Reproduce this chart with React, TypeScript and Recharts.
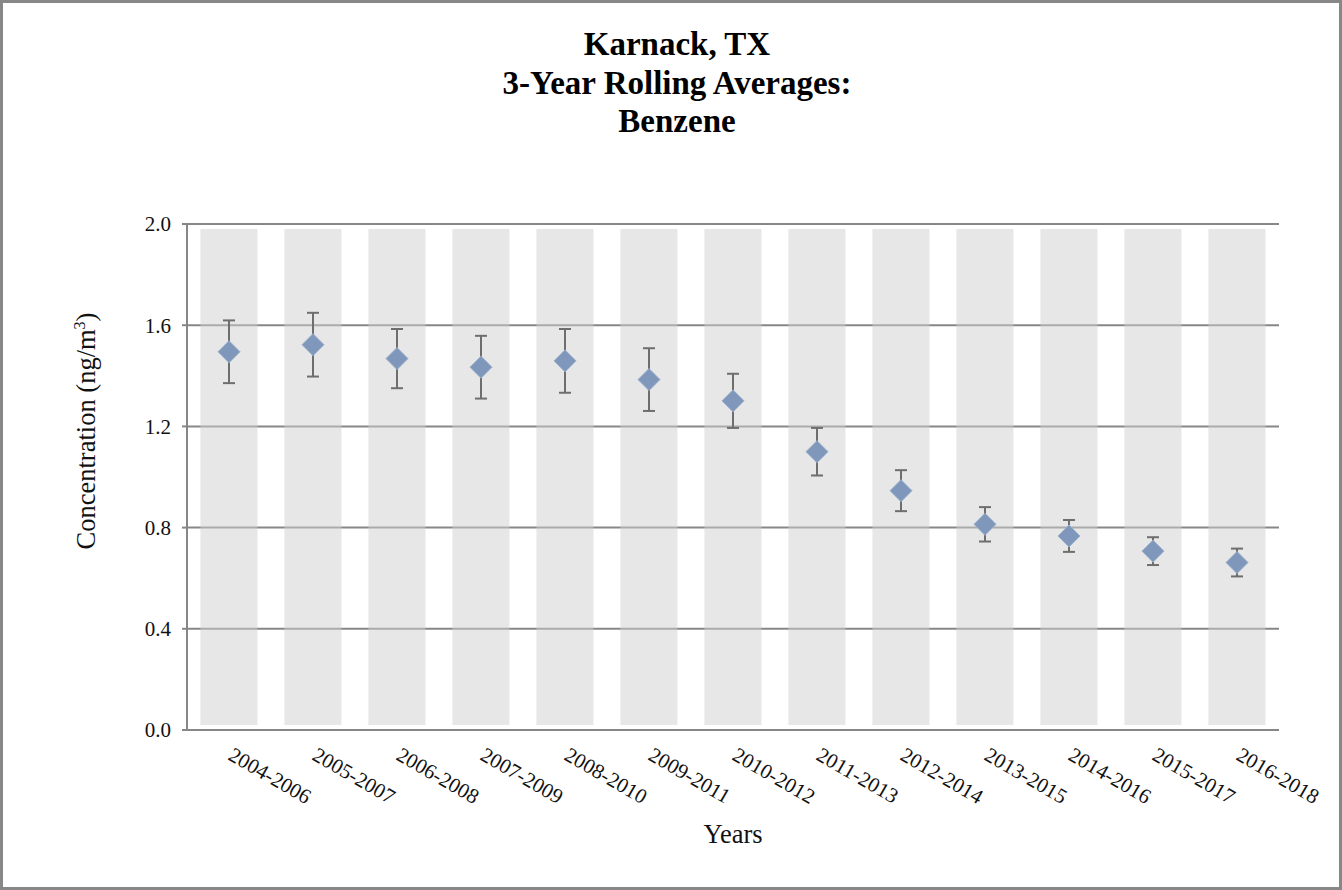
import { Bar, ComposedChart, CartesianGrid, ErrorBar, Scatter, XAxis, YAxis } from "recharts";

// 3-year windows on the x axis
const periods = [
    '2004-2006', '2005-2007', '2006-2008', '2007-2009', '2008-2010', '2009-2011', '2010-2012',
    '2011-2013', '2012-2014', '2013-2015', '2014-2016', '2015-2017', '2016-2018',
];

// rolling average concentration (ng/m3)
const averages = [1.495, 1.523, 1.468, 1.434, 1.459, 1.385, 1.301, 1.100, 0.946, 0.813, 0.767, 0.707, 0.662];

// 95% confidence interval half-widths
const errors = [0.124, 0.126, 0.117, 0.124, 0.126, 0.124, 0.107, 0.094, 0.081, 0.068, 0.063, 0.055, 0.055];

const yTicks = [0, 0.4, 0.8, 1.2, 1.6, 2.0];

// shaded column behind each period
const bandRange = [0.02, 1.98];

const data = periods.map((period, i) => ({
    period,
    avg: averages[i],
    err: errors[i],
    band: bandRange,
}));

const edgeTicks = [...periods.map((_, i) => i), periods.length];

const FONT = '"Liberation Serif", "Times New Roman", serif';
const AXIS_GRAY = '#878787';

const PeriodTick = ({ x, y, payload }: any) => {
    const ox = x - 2;
    const oy = y + 29;
    return (
        <text x={ox} y={oy} transform={`rotate(30, ${ox}, ${oy})`} fontSize={21} fontFamily={FONT} fill="#111">
            {payload.value}
        </text>
    );
};

const Diamond = ({ cx, cy }: any) => {
    const r = 11;
    return (
        <polygon
            points={`${cx},${cy - r} ${cx + r},${cy} ${cx},${cy + r} ${cx - r},${cy}`}
            fill="#7f97bb"
            stroke="#9cb0cc"
            strokeWidth={1}
        />
    );
};

const YTitle = () => (
    <text x={92} y={428} transform="rotate(-90, 92, 428)" textAnchor="middle" fontSize={26.5} fontFamily={FONT} fill="#111">
        Concentration (ng/m<tspan dy={-10} fontSize={16}>3</tspan><tspan dy={10}>)</tspan>
    </text>
);

export default function App() {
    return (
        <div
            style={{
                position: 'absolute', left: 0, top: 0, width: 1342, height: 890,
                boxSizing: 'border-box', border: `3px solid ${AXIS_GRAY}`, background: '#fff',
            }}
        >
            <svg width={1336} height={200} style={{ position: 'absolute', left: 0, top: 0 }}>
                <g fontFamily={FONT} fontWeight="bold" fontSize={33} textAnchor="middle" fill="#000">
                    <text x={674} y={52}>Karnack, TX</text>
                    <text x={674} y={91}>3-Year Rolling Averages:</text>
                    <text x={674} y={129}>Benzene</text>
                </g>
            </svg>
            <ComposedChart
                width={1336}
                height={884}
                data={data}
                margin={{ top: 221, right: 60, bottom: 0, left: 0 }}
                barCategoryGap="16%"
            >
                <CartesianGrid vertical={false} stroke={AXIS_GRAY} strokeWidth={2} strokeOpacity={1} />
                <XAxis
                    xAxisId="edges"
                    type="number"
                    domain={[0, periods.length]}
                    ticks={edgeTicks}
                    allowDataOverflow
                    height={0}
                    tickSize={6}
                    tick={() => <g />}
                    axisLine={{ stroke: AXIS_GRAY, strokeWidth: 2 }}
                    tickLine={{ stroke: AXIS_GRAY, strokeWidth: 2 }}
                />
                <XAxis
                    xAxisId="cat"
                    dataKey="period"
                    height={157}
                    axisLine={false}
                    tickLine={false}
                    tickSize={0}
                    tickMargin={0}
                    interval={0}
                    tick={<PeriodTick />}
                    label={{ value: 'Years', position: 'insideBottom', offset: 44, fontSize: 26.5, fontFamily: FONT, fill: '#111' }}
                />
                <YAxis
                    domain={[0, 2]}
                    ticks={yTicks}
                    width={184}
                    tickSize={5}
                    tickMargin={11}
                    tickFormatter={(v: number) => v.toFixed(1)}
                    tick={{ fontSize: 21, fontFamily: FONT, fill: '#111' }}
                    axisLine={{ stroke: AXIS_GRAY, strokeWidth: 2 }}
                    tickLine={{ stroke: AXIS_GRAY, strokeWidth: 2 }}
                    label={{ content: <YTitle /> }}
                />
                <Bar xAxisId="cat" dataKey="band" fill="#d0d0d0" fillOpacity={0.5} isAnimationActive={false} />
                <Scatter xAxisId="cat" dataKey="avg" shape={<Diamond />} isAnimationActive={false}>
                    <ErrorBar dataKey="err" direction="y" width={6} stroke="#6e6e6e" strokeWidth={2} />
                </Scatter>
            </ComposedChart>
        </div>
    );
}
